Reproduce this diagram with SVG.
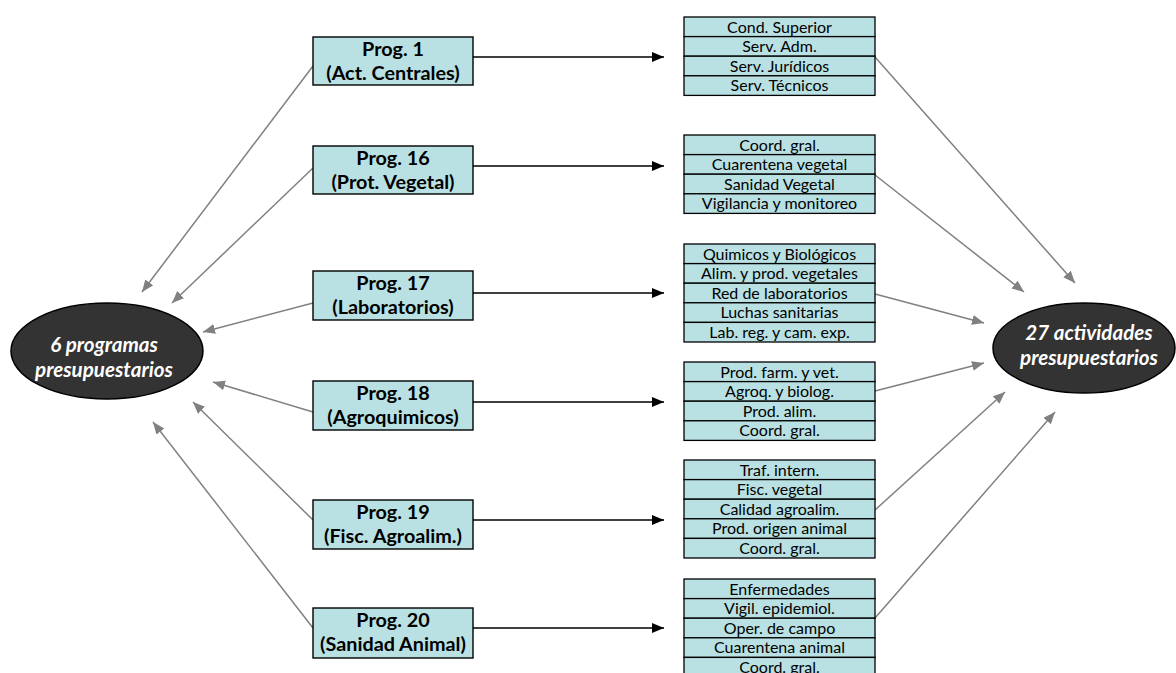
<svg xmlns="http://www.w3.org/2000/svg" width="1176" height="673" viewBox="0 0 1176 673">
<style>
.prog rect{fill:#B9E0E2;stroke:#000;stroke-width:1.4}
.prog text{font-family:Lato,"Open Sans",sans-serif;font-weight:bold;font-size:19.8px;fill:#000;text-anchor:middle}
.list rect{fill:#B9E0E2;stroke:#000;stroke-width:1.3}
.list text{font-family:Lato,"Open Sans",sans-serif;font-size:16px;fill:#000;text-anchor:middle}
.ell ellipse{fill:#333;stroke:#000;stroke-width:1.5}
.ell text{font-family:Lato,"Open Sans",sans-serif;font-weight:bold;font-style:italic;font-size:20.6px;fill:#fff;text-anchor:middle}
.blk{stroke:#000;stroke-width:1.6;fill:none;marker-end:url(#ab)}
.gry{stroke:#808080;stroke-width:1.5;fill:none;marker-end:url(#ag)}
</style>
<defs>
<marker id="ab" markerUnits="userSpaceOnUse" markerWidth="14" markerHeight="12" refX="12" refY="5" orient="auto"><path d="M0,0 L12,5 L0,10 Z" fill="#000"/></marker>
<marker id="ag" markerUnits="userSpaceOnUse" markerWidth="14" markerHeight="12" refX="12" refY="5" orient="auto"><path d="M0,0 L12,5 L0,10 Z" fill="#808080"/></marker>
</defs>
<rect width="1176" height="673" fill="#fff"/>

<g id="connectors">
<line class="blk" x1="473" y1="57" x2="664" y2="57"/>
<line class="blk" x1="473" y1="166" x2="664" y2="166"/>
<line class="blk" x1="473" y1="293" x2="664" y2="293"/>
<line class="blk" x1="473" y1="402" x2="664" y2="402"/>
<line class="blk" x1="473" y1="520" x2="664" y2="520"/>
<line class="blk" x1="473" y1="628" x2="664" y2="628"/>
<line class="gry" x1="313" y1="66" x2="142" y2="292"/>
<line class="gry" x1="313" y1="168" x2="172" y2="303"/>
<line class="gry" x1="313" y1="303" x2="203" y2="332"/>
<line class="gry" x1="313" y1="412" x2="213" y2="382"/>
<line class="gry" x1="313" y1="520" x2="193" y2="402"/>
<line class="gry" x1="313" y1="628" x2="153" y2="422"/>
<line class="gry" x1="875" y1="57" x2="1075" y2="283"/>
<line class="gry" x1="875" y1="175" x2="1024" y2="292"/>
<line class="gry" x1="875" y1="294" x2="984" y2="323"/>
<line class="gry" x1="875" y1="391" x2="984" y2="363"/>
<line class="gry" x1="875" y1="510" x2="1005" y2="392"/>
<line class="gry" x1="875" y1="618" x2="1055" y2="412"/>
</g>

<g id="programas" class="ell">
<ellipse cx="107" cy="351" rx="96" ry="48"/>
<text x="104" y="352">6 programas</text>
<text x="104" y="377">presupuestarios</text>
</g>
<g id="actividades" class="ell">
<ellipse cx="1084" cy="348" rx="91" ry="45"/>
<text x="1089" y="340">27 actividades</text>
<text x="1089" y="365">presupuestarios</text>
</g>

<g id="prog1" class="prog"><rect x="313" y="37" width="160" height="48"/><text x="393" y="56">Prog. 1</text><text x="393" y="80">(Act. Centrales)</text></g>
<g id="prog16" class="prog"><rect x="313" y="146" width="160" height="48"/><text x="393" y="165">Prog. 16</text><text x="393" y="189">(Prot. Vegetal)</text></g>
<g id="prog17" class="prog"><rect x="313" y="271" width="160" height="49"/><text x="393" y="290">Prog. 17</text><text x="393" y="314">(Laboratorios)</text></g>
<g id="prog18" class="prog"><rect x="313" y="381" width="160" height="49"/><text x="393" y="400">Prog. 18</text><text x="393" y="424">(Agroquimicos)</text></g>
<g id="prog19" class="prog"><rect x="313" y="500" width="160" height="49"/><text x="393" y="519">Prog. 19</text><text x="393" y="543">(Fisc. Agroalim.)</text></g>
<g id="prog20" class="prog"><rect x="313" y="608" width="160" height="50"/><text x="393" y="627">Prog. 20</text><text x="393" y="651">(Sanidad Animal)</text></g>

<g id="list1" class="list">
<rect x="684" y="17" width="191" height="19.6"/><text x="779.5" y="32.5">Cond. Superior</text>
<rect x="684" y="36.6" width="191" height="19.6"/><text x="779.5" y="52.1">Serv. Adm.</text>
<rect x="684" y="56.2" width="191" height="19.6"/><text x="779.5" y="71.7">Serv. Jurídicos</text>
<rect x="684" y="75.8" width="191" height="19.6"/><text x="779.5" y="91.3">Serv. Técnicos</text>
</g>
<g id="list2" class="list">
<rect x="684" y="135" width="191" height="19.6"/><text x="779.5" y="150.5">Coord. gral.</text>
<rect x="684" y="154.6" width="191" height="19.6"/><text x="779.5" y="170.1">Cuarentena vegetal</text>
<rect x="684" y="174.2" width="191" height="19.6"/><text x="779.5" y="189.7">Sanidad Vegetal</text>
<rect x="684" y="193.8" width="191" height="19.6"/><text x="779.5" y="209.3">Vigilancia y monitoreo</text>
</g>
<g id="list3" class="list">
<rect x="684" y="244" width="191" height="19.6"/><text x="779.5" y="259.5">Quimicos y Biológicos</text>
<rect x="684" y="263.6" width="191" height="19.6"/><text x="779.5" y="279.1">Alim. y prod. vegetales</text>
<rect x="684" y="283.2" width="191" height="19.6"/><text x="779.5" y="298.7">Red de laboratorios</text>
<rect x="684" y="302.8" width="191" height="19.6"/><text x="779.5" y="318.3">Luchas sanitarias</text>
<rect x="684" y="322.4" width="191" height="19.6"/><text x="779.5" y="337.9">Lab. reg. y cam. exp.</text>
</g>
<g id="list4" class="list">
<rect x="684" y="362" width="191" height="19.6"/><text x="779.5" y="377.5">Prod. farm. y vet.</text>
<rect x="684" y="381.6" width="191" height="19.6"/><text x="779.5" y="397.1">Agroq. y biolog.</text>
<rect x="684" y="401.2" width="191" height="19.6"/><text x="779.5" y="416.7">Prod. alim.</text>
<rect x="684" y="420.8" width="191" height="19.6"/><text x="779.5" y="436.3">Coord. gral.</text>
</g>
<g id="list5" class="list">
<rect x="684" y="460" width="191" height="19.6"/><text x="779.5" y="475.5">Traf. intern.</text>
<rect x="684" y="479.6" width="191" height="19.6"/><text x="779.5" y="495.1">Fisc. vegetal</text>
<rect x="684" y="499.2" width="191" height="19.6"/><text x="779.5" y="514.7">Calidad agroalim.</text>
<rect x="684" y="518.8" width="191" height="19.6"/><text x="779.5" y="534.3">Prod. origen animal</text>
<rect x="684" y="538.4" width="191" height="19.6"/><text x="779.5" y="553.9">Coord. gral.</text>
</g>
<g id="list6" class="list">
<rect x="684" y="579" width="191" height="19.6"/><text x="779.5" y="594.5">Enfermedades</text>
<rect x="684" y="598.6" width="191" height="19.6"/><text x="779.5" y="614.1">Vigil. epidemiol.</text>
<rect x="684" y="618.2" width="191" height="19.6"/><text x="779.5" y="633.7">Oper. de campo</text>
<rect x="684" y="637.8" width="191" height="19.6"/><text x="779.5" y="653.3">Cuarentena animal</text>
<rect x="684" y="657.4" width="191" height="19.6"/><text x="779.5" y="672.9">Coord. gral.</text>
</g>
</svg>
